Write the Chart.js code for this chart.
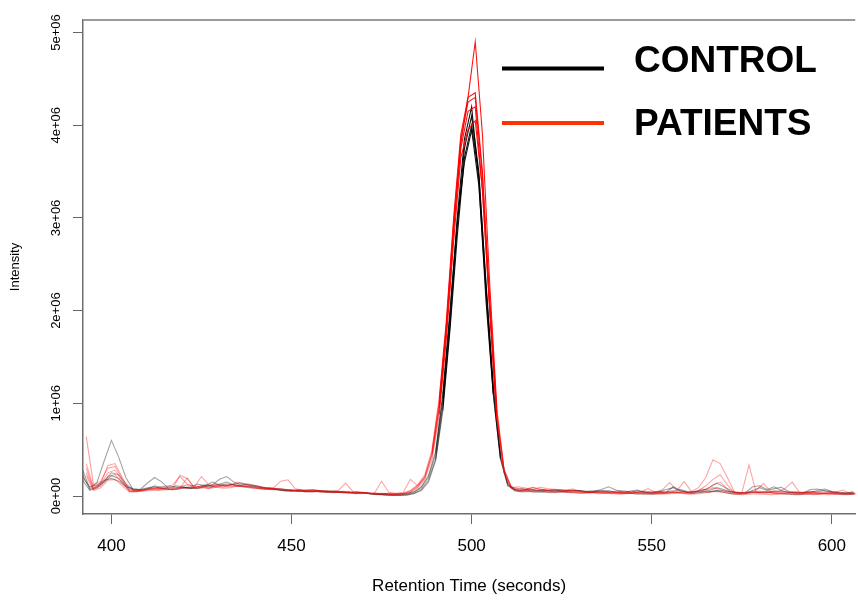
<!DOCTYPE html>
<html><head><meta charset="utf-8">
<script src="https://cdn.jsdelivr.net/npm/chart.js@4.4.1/dist/chart.umd.min.js"></script>
<style>html,body{margin:0;padding:0;background:#fff;overflow:hidden}#wrap{position:relative;width:858px;height:600px}</style>
</head><body><div id="wrap"><canvas id="c" width="858" height="600"></canvas></div>
<script>
// Retention times (seconds)
const timeControl = [
392,394,396,398,400,402,404,406,408,410,
412,414,416,418,420,422,424,426,428,430,
432,434,436,438,440,442,444,446,448,450,
452,454,456,458,460,462,464,466,468,470,
472,474,476,478,480,482,484,486,488,490,
492,494,496,498,500,502,504,506,508,510,
512,514,516,518,520,522,524,526,528,530,
532,534,536,538,540,542,544,546,548,550,
552,554,556,558,560,562,564,566,568,570,
572,574,576,578,580,582,584,586,588,590,
592,594,596,598,600,602,604,606];
const timePatient = [
393,395,397,399,401,403,405,407,409,411,
413,415,417,419,421,423,425,427,429,431,
433,435,437,439,441,443,445,447,449,451,
453,455,457,459,461,463,465,467,469,471,
473,475,477,479,481,483,485,487,489,491,
493,495,497,499,501,503,505,507,509,511,
513,515,517,519,521,523,525,527,529,531,
533,535,537,539,541,543,545,547,549,551,
553,555,557,559,561,563,565,567,569,571,
573,575,577,579,581,583,585,587,589,591,
593,595,597,599,601,603,605,607];

// Intensities, in thousands of counts
const UNIT = 1000;
const control1 = [
280,80,150,380,600,420,200,70,60,75,
110,90,70,80,95,85,100,120,110,130,
150,120,110,100,90,75,70,65,60,55,
60,50,45,55,40,45,35,40,30,35,
25,20,15,10,15,20,40,90,200,450,
1050,1950,3000,3850,4200,3400,2100,1100,400,120,
60,55,70,60,55,65,60,50,55,60,
45,50,70,100,65,45,40,55,40,35,
45,70,90,55,40,50,60,90,140,100,
50,35,30,60,90,60,80,95,50,30,
35,40,60,75,50,35,30,40];
const control2 = [
170,60,90,150,220,190,110,60,70,140,
200,150,75,70,85,90,80,100,120,180,
210,150,120,130,110,95,80,70,60,65,
50,60,70,50,45,55,40,35,45,30,
25,20,10,5,10,15,30,70,170,400,
980,1850,2900,3750,4100,3500,2250,1150,420,140,
70,80,60,55,65,50,55,60,75,55,
40,45,50,60,40,35,55,65,40,30,
35,40,100,60,35,40,75,60,90,70,
40,30,35,100,110,70,100,60,40,35,
30,70,75,55,40,30,25,30];
const control3 = [
230,70,100,160,250,230,130,70,65,80,
90,100,110,95,90,100,130,110,150,120,
110,130,140,120,100,85,90,70,55,50,
55,45,60,40,50,35,45,30,25,35,
20,15,20,15,5,10,25,60,150,380,
920,1800,2800,3650,4000,3450,2300,1200,450,130,
55,45,50,40,45,35,40,45,35,30,
35,40,30,35,30,25,30,20,25,20,
25,30,45,35,25,30,40,45,55,40,
25,20,25,40,35,45,30,25,20,15,
20,25,20,30,25,20,15,20];
const control4 = [
200,100,120,170,190,160,100,80,70,90,
100,80,90,110,100,80,90,110,100,115,
130,120,105,95,110,90,75,80,70,60,
70,55,50,60,55,40,50,45,35,40,
30,25,30,20,25,30,45,100,220,480,
1100,2000,2950,3600,3950,3350,2200,1100,400,110,
70,60,75,65,70,60,70,65,55,60,
50,55,60,45,50,55,45,40,50,45,
50,45,55,70,45,40,50,45,60,55,
45,40,35,45,50,40,55,50,40,45,
40,50,45,60,45,40,35,45];
const patient1 = [
640,120,160,300,320,180,60,55,70,80,
75,90,120,210,130,95,110,90,100,120,
110,100,120,90,80,70,90,160,175,80,
60,70,55,50,45,60,140,50,40,35,
30,160,40,30,40,180,110,200,450,950,
1800,2900,3800,4300,4900,3900,2300,950,280,100,
80,70,90,75,60,55,50,60,55,40,
35,50,40,35,45,30,35,45,80,40,
70,145,60,155,50,90,200,390,350,200,
40,35,45,60,135,50,45,80,150,40,
35,40,30,35,40,65,30,25];
const patient2 = [
300,80,130,250,280,160,50,45,60,75,
85,70,80,225,190,100,210,120,95,105,
115,150,130,110,95,85,70,80,65,60,
70,60,50,55,45,50,40,35,45,30,
25,30,20,25,30,60,120,230,500,1050,
1900,3000,3900,4300,4350,3500,2050,850,250,90,
100,85,70,95,80,70,65,55,60,50,
45,40,35,30,40,35,30,35,30,25,
30,40,35,45,30,35,60,90,70,40,
25,30,335,40,30,35,25,30,35,25,
30,25,35,30,25,30,20,25];
const patient3 = [
250,70,110,210,230,140,55,50,55,60,
70,65,75,90,80,95,100,85,110,95,
130,110,100,120,105,90,80,75,70,65,
55,60,65,50,55,40,45,35,30,40,
20,25,15,20,25,45,100,200,450,950,
1800,2850,3750,4150,4200,3300,2000,820,250,80,
60,75,95,70,60,75,55,60,50,45,
40,45,50,40,35,30,40,35,30,35,
40,35,45,50,40,60,110,180,230,120,
35,30,40,35,45,40,35,30,40,35,
30,35,30,25,30,25,30,25];
const patient4 = [
220,60,90,170,180,110,45,50,60,70,
60,75,65,80,195,85,90,80,95,85,
90,105,95,85,80,75,85,70,60,55,
50,45,50,40,35,45,30,35,25,30,
20,15,10,15,20,35,90,180,400,880,
1700,2750,3650,3950,4050,3300,2050,880,280,90,
50,60,45,55,45,40,50,35,40,30,
35,25,30,25,20,25,30,25,20,25,
20,25,30,25,20,25,35,50,45,30,
20,15,20,25,20,15,20,25,20,15,
20,15,20,15,20,15,20,15];
const patient5 = [
350,90,140,330,350,200,70,60,65,75,
80,85,90,100,120,110,95,115,125,110,
100,115,110,95,90,80,75,65,70,60,
55,50,60,45,50,40,45,40,35,30,
35,25,30,20,30,55,110,210,470,1000,
1850,2950,3850,4250,4300,3450,2150,900,290,100,
65,55,60,50,55,45,50,45,40,35,
40,35,45,40,30,35,40,30,35,40,
35,30,40,35,45,50,70,120,150,80,
40,35,30,40,35,45,40,35,30,35,
40,35,30,35,40,35,30,35];

const controlSeries = [control1, control2, control3, control4];
const patientSeries = [patient1, patient2, patient3, patient4, patient5];
const xTicks = [400, 450, 500, 550, 600];
const yTicks = [0, 1e6, 2e6, 3e6, 4e6, 5e6];
const groupLabels = ['CONTROL', 'PATIENTS'];

const SANS = "'Liberation Sans', Arial, Helvetica, sans-serif";
const CONTROL_RGB = '0,0,0';
const PATIENT_RGB = '255,0,0';
const LEGEND_COLORS = ['#000000', '#ff3300'];

function segColor(rgb, c) {
  const m = Math.max(c.p0.parsed.y, c.p1.parsed.y);
  const f = Math.min(1, Math.max(0, (m - 6e5) / 1.2e6));
  return 'rgba(' + rgb + ',' + (0.36 + 0.56 * f).toFixed(3) + ')';
}
function makeSet(label, times, vals, rgb, order) {
  return {
    label: label,
    data: times.map((t, i) => ({x: t, y: vals[i] * UNIT})),
    borderColor: 'rgba(' + rgb + ',0.36)',
    borderWidth: 1.1,
    pointRadius: 0,
    tension: 0,
    fill: false,
    order: order,
    segment: {borderColor: c => segColor(rgb, c)}
  };
}
const datasets = [];
controlSeries.forEach((v, i) => datasets.push(makeSet(groupLabels[0] + ' ' + (i + 1), timeControl, v, CONTROL_RGB, 2)));
patientSeries.forEach((v, i) => datasets.push(makeSet(groupLabels[1] + ' ' + (i + 1), timePatient, v, PATIENT_RGB, 1)));

function sci(v) {
  if (v === 0) return '0e+00';
  const e = Math.floor(Math.log10(Math.abs(v)));
  const m = +(v / Math.pow(10, e)).toFixed(2);
  return m + 'e' + (e < 0 ? '-' : '+') + String(Math.abs(e)).padStart(2, '0');
}

const framePlugin = {
  id: 'frame',
  afterDatasetsDraw(chart) {
    const {ctx, chartArea: a} = chart;
    ctx.save();
    ctx.strokeStyle = '#9a9a9a';
    ctx.lineWidth = 2;
    ctx.beginPath();
    ctx.moveTo(a.left, a.top);
    ctx.lineTo(a.right, a.top);
    ctx.stroke();
    ctx.restore();
  }
};
const legendPlugin = {
  id: 'groupLegend',
  afterDraw(chart) {
    const ctx = chart.ctx;
    const lineY = [68.5, 123];
    const textY = [72, 135];
    ctx.save();
    groupLabels.forEach((lab, i) => {
      ctx.strokeStyle = LEGEND_COLORS[i];
      ctx.lineWidth = 4;
      ctx.beginPath();
      ctx.moveTo(502, lineY[i]);
      ctx.lineTo(604, lineY[i]);
      ctx.stroke();
      ctx.fillStyle = '#000';
      ctx.font = 'bold 37px ' + SANS;
      ctx.textBaseline = 'alphabetic';
      ctx.textAlign = 'left';
      ctx.fillText(lab, 634, textY[i]);
    });
    ctx.restore();
  }
};

new Chart(document.getElementById('c'), {
  type: 'line',
  data: {datasets: datasets},
  plugins: [framePlugin, legendPlugin],
  options: {
    responsive: false,
    animation: false,
    devicePixelRatio: 1,
    layout: {padding: {top: 20, left: 0, right: 0, bottom: 0}},
    plugins: {legend: {display: false}, tooltip: {enabled: false}},
    scales: {
      x: {
        type: 'linear',
        min: 392.1,
        max: 606.5,
        afterBuildTicks: s => { s.ticks = xTicks.map(v => ({value: v})); },
        afterFit: s => { s.height = 86; },
        ticks: {font: {family: SANS, size: 17}, color: '#000', padding: 12, maxRotation: 0, autoSkip: false, callback: v => String(v)},
        grid: {display: true, drawOnChartArea: false, drawTicks: true, tickLength: 10, color: '#666', tickWidth: 1},
        border: {display: true, color: '#6e6e6e', width: 1.5},
        title: {display: true, text: 'Retention Time (seconds)', font: {family: SANS, size: 17}, color: '#000', padding: {top: 0, bottom: 3}}
      },
      y: {
        type: 'linear',
        min: -194000,
        max: 5135000,
        afterBuildTicks: s => { s.ticks = yTicks.map(v => ({value: v})); },
        afterFit: s => { s.width = 83; },
        ticks: {font: {family: SANS, size: 13}, color: '#000', minRotation: 90, maxRotation: 90, crossAlign: 'center', padding: -2, autoSkip: false, callback: v => sci(v)},
        grid: {display: true, drawOnChartArea: false, drawTicks: true, tickLength: 10, color: '#666', tickWidth: 1},
        border: {display: true, color: '#6e6e6e', width: 1.5},
        title: {display: true, text: 'Intensity', font: {family: SANS, size: 13}, color: '#000', padding: {top: 8, bottom: 0}}
      }
    }
  }
});
</script>
</body></html>
